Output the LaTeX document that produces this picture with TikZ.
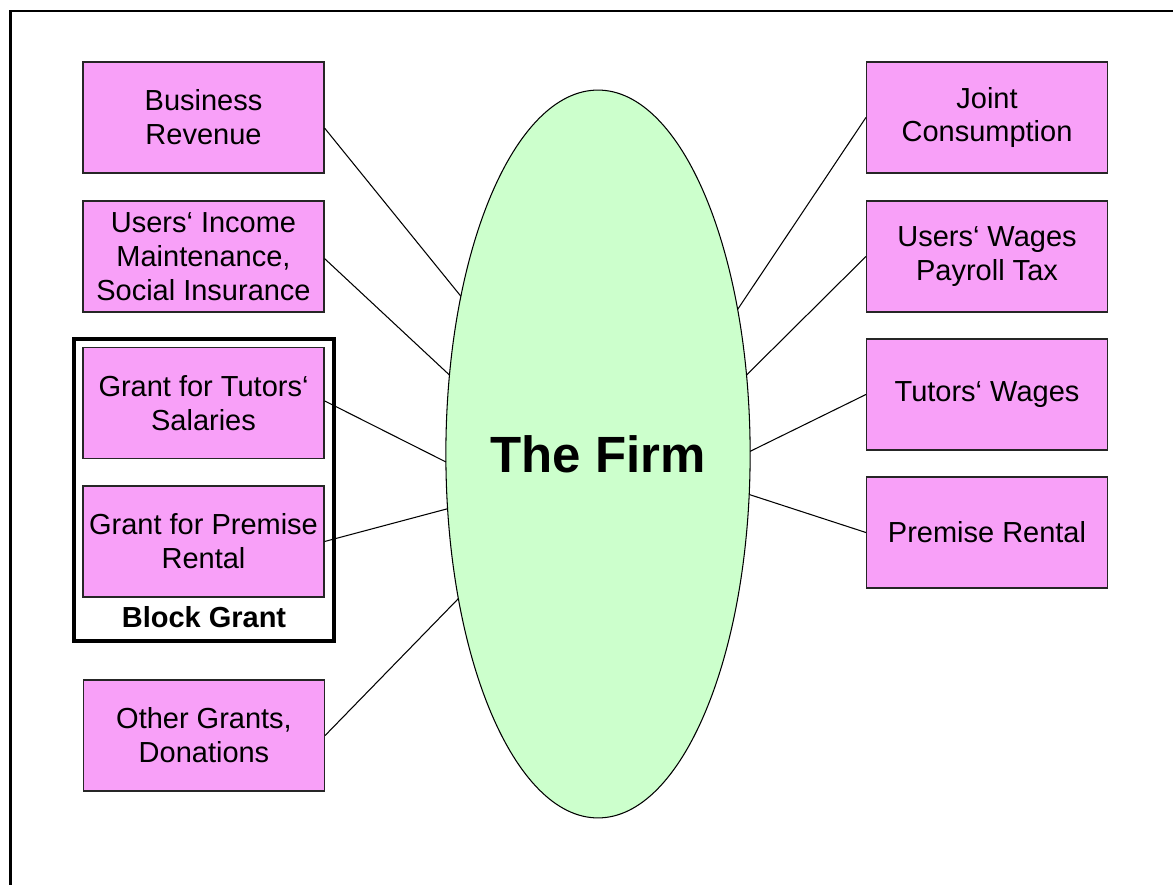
\documentclass[tikz,border=0pt]{standalone}
\usepackage{fontspec}
\setmainfont{Liberation Sans}
\usetikzlibrary{shapes.geometric}

\definecolor{boxpink}{RGB}{248,160,248}
\definecolor{firmgreen}{RGB}{204,255,204}

\begin{document}
\begin{tikzpicture}[
    % 定義樣式 (座標以像素為單位)
    x=0.02cm, y=-0.02cm,
    flow/.style={draw=black!85, line width=0.7pt, fill=boxpink,
        minimum width=4.82cm, minimum height=2.22cm, inner sep=0pt,
        align=center, font=\fontsize{16.5}{19.3}\selectfont},
    firm node/.style={ellipse, draw=black, line width=0.6pt, fill=firmgreen,
        minimum width=5.92cm, minimum height=14.56cm, inner sep=0pt, outer sep=0pt,
        font=\fontsize{29}{34}\selectfont\bfseries},
    link/.style={draw=black, line width=0.6pt},
    group box/.style={draw=black, line width=2.3pt,
        minimum width=5.2cm, minimum height=6.04cm, inner sep=0pt},
    group title/.style={font=\fontsize{16.5}{19.3}\selectfont\bfseries},
    outer frame/.style={draw=black, line width=1.7pt}
]

    % 固定畫布大小
    \useasboundingbox (0,0) rectangle (1173,885);

    % --- 0. 外框 (只有上邊與左邊) ---
    \draw[outer frame] (10.5,885) |- (1173,11);

    % --- 1. 中間的 Firm ---
    \node[firm node] (F) at (598,454) {The Firm};

    % --- 2. 左邊: 收入來源 ---
    \node[flow] (In-1) at (203.5,117.5) {Business\\Revenue};
    \node[flow] (In-2) at (203.5,256.5) {Users‘ Income\\Maintenance,\\Social Insurance};
    \node[flow] (In-3) at (203.5,403) {Grant for Tutors‘\\Salaries};
    \node[flow] (In-4) at (203.5,541.5) {Grant for Premise\\Rental};
    \node[flow] (In-5) at (204,735.5) {Other Grants,\\Donations};

    % Block Grant 外框
    \node[group box] (BG) at (204,490) {};
    \node[group title] (BG-title) at (204,617) {Block Grant};

    % --- 3. 右邊: 支出 ---
    \node[flow] (Out-1) at (987,117.5) {Joint\\Consumption};
    \node[flow] (Out-2) at (987,256.5) {Users‘ Wages\\Payroll Tax};
    \node[flow] (Out-3) at (987,394.5) {Tutors‘ Wages};
    \node[flow] (Out-4) at (987,532.5) {Premise Rental};

    % --- 4. 連接線 ---
    \foreach \src/\from/\to in {1/-5/131.6, 2/-1.2/152, 3/1.9/183.1, 4/0/200.2, 5/0/226.4}
        \draw[link] (In-\src.\from) -- (F.\to);

    \foreach \dst/\to in {1/46.2, 2/28, 3/1.9, 4/-15.7}
        \draw[link] (F.\to) -- (Out-\dst.west);

\end{tikzpicture}
\end{document}
